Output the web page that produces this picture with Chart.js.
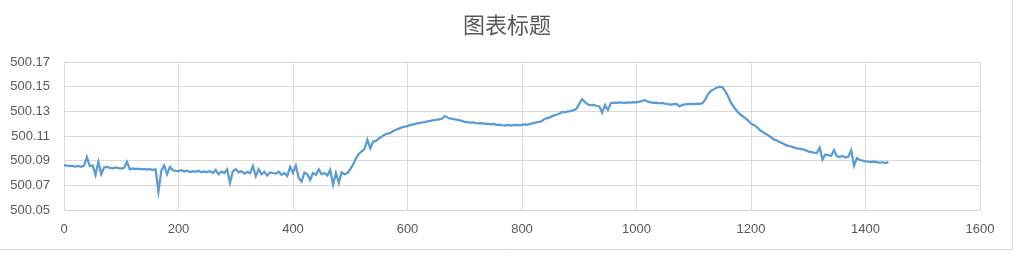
<!DOCTYPE html>
<html>
<head>
<meta charset="utf-8">
<title>图表标题</title>
<script src="https://cdn.jsdelivr.net/npm/chart.js@4/dist/chart.umd.min.js"></script>
<style>
    html, body { margin: 0; padding: 0; background: #ffffff; }
    #wrap { width: 1016px; height: 256px; }
</style>
</head>
<body>
<div id="wrap"><canvas id="myChart" width="1016" height="256"></canvas></div>
<script>
var titulo = '图表标题';
var xTicks = [0, 200, 400, 600, 800, 1000, 1200, 1400, 1600];
var yTicks = [500.05, 500.07, 500.09, 500.11, 500.13, 500.15, 500.17];
var paso = 5; // one reading every 5 units, starting at 0

// readings 500.xxxx, one row per 100 units
var lecturas = [
    500.0865, 500.0860, 500.0858, 500.0855, 500.0852, 500.0858, 500.0850, 500.0860, 500.0928, 500.0855,
    500.0862, 500.0785, 500.0890, 500.0790, 500.0845, 500.0850, 500.0842, 500.0838, 500.0845, 500.0840,
    500.0835, 500.0842, 500.0890, 500.0830, 500.0838, 500.0832, 500.0836, 500.0830, 500.0833, 500.0828,
    500.0832, 500.0826, 500.0830, 500.0650, 500.0820, 500.0860, 500.0790, 500.0850, 500.0822, 500.0818,
    500.0815, 500.0822, 500.0812, 500.0818, 500.0808, 500.0815, 500.0810, 500.0818, 500.0805, 500.0812,
    500.0808, 500.0815, 500.0800, 500.0825, 500.0790, 500.0812, 500.0800, 500.0830, 500.0720, 500.0815,
    500.0830, 500.0805, 500.0815, 500.0795, 500.0808, 500.0800, 500.0855, 500.0775, 500.0830, 500.0790,
    500.0810, 500.0780, 500.0805, 500.0800, 500.0795, 500.0810, 500.0785, 500.0800, 500.0775, 500.0850,
    500.0800, 500.0860, 500.0760, 500.0730, 500.0805, 500.0790, 500.0745, 500.0800, 500.0785, 500.0830,
    500.0790, 500.0800, 500.0780, 500.0825, 500.0705, 500.0800, 500.0720, 500.0805, 500.0790, 500.0800,
    500.0830, 500.0870, 500.0920, 500.0955, 500.0975, 500.0995, 500.1070, 500.1000, 500.1055, 500.1060,
    500.1080, 500.1095, 500.1110, 500.1120, 500.1125, 500.1140, 500.1150, 500.1160, 500.1170, 500.1175,
    500.1180, 500.1190, 500.1195, 500.1200, 500.1205, 500.1210, 500.1212, 500.1218, 500.1222, 500.1228,
    500.1230, 500.1235, 500.1240, 500.1262, 500.1250, 500.1240, 500.1238, 500.1232, 500.1228, 500.1222,
    500.1215, 500.1212, 500.1208, 500.1210, 500.1205, 500.1202, 500.1204, 500.1198, 500.1200, 500.1195,
    500.1198, 500.1190, 500.1192, 500.1188, 500.1185, 500.1190, 500.1185, 500.1188, 500.1190, 500.1186,
    500.1190, 500.1195, 500.1192, 500.1198, 500.1205, 500.1210, 500.1215, 500.1222, 500.1240, 500.1245,
    500.1255, 500.1265, 500.1272, 500.1280, 500.1295, 500.1292, 500.1300, 500.1302, 500.1310, 500.1320,
    500.1360, 500.1398, 500.1375, 500.1355, 500.1350, 500.1352, 500.1345, 500.1340, 500.1290, 500.1350,
    500.1310, 500.1365, 500.1370, 500.1368, 500.1372, 500.1370, 500.1368, 500.1372, 500.1370, 500.1375,
    500.1372, 500.1378, 500.1385, 500.1390, 500.1378, 500.1372, 500.1368, 500.1370, 500.1365, 500.1368,
    500.1362, 500.1358, 500.1355, 500.1358, 500.1360, 500.1340, 500.1352, 500.1356, 500.1358, 500.1360,
    500.1358, 500.1362, 500.1360, 500.1365, 500.1395, 500.1440, 500.1465, 500.1478, 500.1492, 500.1500,
    500.1495, 500.1465, 500.1420, 500.1370, 500.1335, 500.1305, 500.1280, 500.1262, 500.1245, 500.1225,
    500.1200, 500.1190, 500.1175, 500.1150, 500.1135, 500.1120, 500.1105, 500.1090, 500.1070, 500.1065,
    500.1050, 500.1042, 500.1028, 500.1020, 500.1015, 500.1008, 500.1000, 500.0998, 500.0992, 500.0985,
    500.0975, 500.0970, 500.0965, 500.0962, 500.1005, 500.0910, 500.0950, 500.0945, 500.0938, 500.0985,
    500.0935, 500.0930, 500.0940, 500.0925, 500.0932, 500.0985, 500.0860, 500.0920, 500.0905, 500.0900,
    500.0895, 500.0892, 500.0890, 500.0893, 500.0888, 500.0885, 500.0887, 500.0880, 500.0888
];

var puntos = lecturas.map(function (v, i) {
    return { x: i * paso, y: v };
});

var colorTexto = '#595959';
var colorRejilla = '#d9d9d9';

// title centred on the whole picture, plus the bits of outer frame at right and bottom
var marcoYTitulo = {
    id: 'marcoYTitulo',
    afterDraw: function (chart) {
        var c = chart.ctx;
        c.save();
        c.fillStyle = colorTexto;
        c.font = "22px 'Noto Sans CJK SC', sans-serif";
        c.textAlign = 'center';
        c.textBaseline = 'middle';
        c.fillText(titulo, 507, 25);
        c.strokeStyle = colorRejilla;
        c.lineWidth = 1;
        c.beginPath();
        c.moveTo(1012.5, 0);
        c.lineTo(1012.5, 249.5);
        c.moveTo(0, 249.5);
        c.lineTo(1012.5, 249.5);
        c.stroke();
        c.restore();
    }
};

var ctx = document.getElementById('myChart').getContext('2d');
var myChart = new Chart(ctx, {
    type: 'line',
    data: {
        datasets: [{
                label: titulo,
                data: puntos,
                borderColor: '#5B9BD5',
                backgroundColor: '#5B9BD5',
                borderWidth: 2.25,
                pointRadius: 0,
                tension: 0,
                fill: false
            }]
    },
    options: {
        responsive: false,
        animation: false,
        layout: {
            padding: { left: 0, right: 36, top: 62, bottom: 0 }
        },
        plugins: {
            legend: { display: false },
            tooltip: { enabled: false },
            title: { display: false }
        },
        scales: {
            x: {
                type: 'linear',
                min: xTicks[0],
                max: xTicks[xTicks.length - 1],
                afterBuildTicks: function (scale) {
                    scale.ticks = xTicks.map(function (v) { return { value: v }; });
                },
                afterFit: function (scale) {
                    scale.height = 46;
                },
                grid: { color: colorRejilla, drawTicks: false },
                border: { color: colorRejilla },
                ticks: {
                    color: colorTexto,
                    padding: 12,
                    maxRotation: 0,
                    font: { family: "'Liberation Sans', Arial, sans-serif", size: 13 },
                    callback: function (v) { return String(v); }
                }
            },
            y: {
                min: yTicks[0],
                max: yTicks[yTicks.length - 1],
                afterBuildTicks: function (scale) {
                    scale.ticks = yTicks.map(function (v) { return { value: v }; });
                },
                afterFit: function (scale) {
                    scale.width = 64;
                },
                grid: { color: colorRejilla, drawTicks: false },
                border: { color: colorRejilla },
                ticks: {
                    color: colorTexto,
                    padding: 14,
                    font: { family: "'Liberation Sans', Arial, sans-serif", size: 13 },
                    callback: function (v) { return Number(v).toFixed(2); }
                }
            }
        }
    },
    plugins: [marcoYTitulo]
});
</script>
</body>
</html>
